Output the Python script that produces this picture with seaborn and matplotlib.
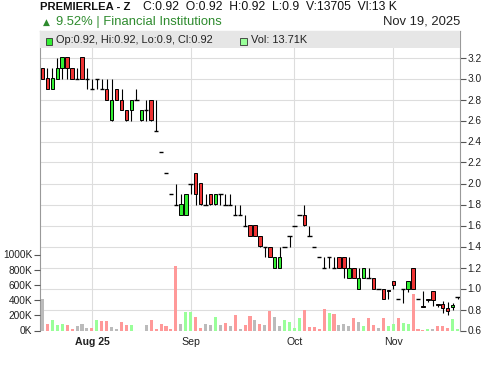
import numpy as np
import pandas as pd
import matplotlib
matplotlib.use("Agg")
import matplotlib.pyplot as plt
import seaborn as sns
from matplotlib.patches import Rectangle

# ---------------- data ----------------
opens = [3.1, 3.0, 2.9, 3.0, 3.1, 3.2, 3.1, 3.0, 3.2, 3.0,
         2.9, 3.0, 2.9, 2.9, 2.6, 2.9, 2.8, 2.7, 2.7, 2.8,
         2.6, 2.7, 2.8, 2.5, 2.3, 2.1, 1.9, 1.8, 1.7, 1.7,
         2.0, 2.1, 2.0, 1.8, 1.9, 1.8, 1.9, 1.8, 1.8, 1.7,
         1.7, 1.6, 1.6, 1.6, 1.5, 1.4, 1.4, 1.2, 1.2, 1.4,
         1.5, 1.6, 1.7, 1.7, 1.5, 1.4, 1.3, 1.2, 1.3, 1.2,
         1.3, 1.3, 1.1, 1.2, 1.0, 1.1, 1.1, 1.1, 1.0, 1.0,
         0.99, 1.07, 0.9, 1.0, 1.0, 1.2, 0.9, 0.83, 0.9, 0.98,
         0.85, 0.85, 0.81, 0.82, 0.92]
highs = [3.1, 3.1, 3.1, 3.2, 3.2, 3.2, 3.1, 3.1, 3.2, 3.1,
         3.0, 3.0, 3.0, 3.0, 3.0, 2.9, 2.9, 2.7, 2.8, 2.9,
         2.7, 2.8, 2.8, 2.8, 2.3, 2.1, 1.9, 2.0, 1.9, 1.9,
         2.0, 2.1, 2.0, 1.9, 1.9, 1.9, 1.9, 1.9, 1.9, 1.8,
         1.8, 1.7, 1.6, 1.6, 1.5, 1.4, 1.4, 1.3, 1.4, 1.4,
         1.5, 1.6, 1.7, 1.8, 1.6, 1.4, 1.3, 1.3, 1.3, 1.3,
         1.3, 1.3, 1.3, 1.2, 1.2, 1.2, 1.2, 1.1, 1.0, 1.0,
         0.99, 1.07, 0.9, 1.0, 1.07, 1.2, 0.9, 0.98, 0.9, 0.98,
         0.85, 0.88, 0.87, 0.86, 0.92]
lows = [3.0, 2.9, 2.9, 3.0, 3.0, 3.0, 3.0, 3.0, 3.0, 2.9,
        2.9, 2.9, 2.9, 2.8, 2.6, 2.8, 2.7, 2.6, 2.6, 2.8,
        2.6, 2.6, 2.6, 2.5, 2.3, 2.1, 1.9, 1.8, 1.7, 1.7,
        1.9, 1.8, 1.8, 1.8, 1.8, 1.8, 1.8, 1.8, 1.8, 1.7,
        1.7, 1.6, 1.5, 1.5, 1.4, 1.3, 1.3, 1.2, 1.2, 1.4,
        1.4, 1.6, 1.7, 1.6, 1.5, 1.4, 1.3, 1.2, 1.2, 1.2,
        1.2, 1.1, 1.1, 1.1, 1.0, 1.1, 1.1, 1.0, 1.0, 0.9,
        0.9, 1.0, 0.9, 0.86, 0.97, 1.0, 0.9, 0.82, 0.87, 0.83,
        0.82, 0.77, 0.75, 0.80, 0.90]
closes = [3.0, 2.9, 3.0, 3.1, 3.2, 3.1, 3.0, 3.0, 3.0, 3.0,
          2.9, 3.0, 2.9, 2.8, 2.8, 2.8, 2.7, 2.6, 2.8, 2.8,
          2.7, 2.7, 2.6, 2.5, 2.3, 2.1, 1.9, 1.8, 1.8, 1.9,
          2.0, 1.9, 1.8, 1.8, 1.8, 1.9, 1.9, 1.8, 1.8, 1.7,
          1.7, 1.6, 1.5, 1.5, 1.4, 1.4, 1.3, 1.3, 1.3, 1.4,
          1.5, 1.6, 1.7, 1.6, 1.5, 1.4, 1.3, 1.2, 1.3, 1.2,
          1.2, 1.2, 1.2, 1.1, 1.1, 1.2, 1.1, 1.0, 1.0, 0.9,
          0.98, 1.03, 0.9, 1.0, 1.07, 1.0, 0.9, 0.82, 0.89, 0.89,
          0.84, 0.81, 0.79, 0.84, 0.92]
volumes_k = [421, 92, 136, 70, 83, 70, 18, 53, 83, 31,
             31, 136, 123, 123, 44, 18, 110, 70, 70, 0,
             0, 70, 136, 26, 79, 53, 18, 846, 79, 237,
             237, 184, 39, 79, 70, 184, 66, 105, 53, 210,
             26, 66, 197, 136, 86, 72, 254, 176, 56, 133,
             108, 34, 165, 266, 45, 45, 22, 280, 232, 215,
             70, 88, 53, 162, 118, 53, 162, 66, 35, 162,
             53, 92, 162, 105, 92, 474, 26, 13, 26, 18,
             53, 53, 35, 145, 13.7]
holidays = ["2025-08-05", "2025-09-04", "2025-10-01", "2025-10-02"]
price_ticks = [0.6, 0.8, 1.0, 1.2, 1.4, 1.6, 1.8, 2.0, 2.2, 2.4, 2.6, 2.8, 3.0, 3.2]
volume_ticks_k = [0, 200, 400, 600, 800, 1000]

dates = pd.bdate_range("2025-07-20", "2025-11-19", freq="C",
                       weekmask="Sun Mon Tue Wed Thu", holidays=holidays)
n = len(dates)
pos = np.arange(n)
o = np.array(opens); h = np.array(highs); l = np.array(lows); c = np.array(closes)
vol = np.array(volumes_k, dtype=float)

prev = np.concatenate([[c[0]], c[:-1]])
move = np.where(c > prev + 1e-9, "up", np.where(c < prev - 1e-9, "down", "flat"))

# month ticks: first trading day of each new month (skip the partial first month)
month_id = dates.month.values
tick_pos = [int(i) for i in range(1, n) if month_id[i] != month_id[i - 1]]
tick_lab = [dates[i].strftime("%b") for i in tick_pos]
tick_lab[0] = dates[tick_pos[0]].strftime("%b %y")

# ---------------- style ----------------
sns.set_style("white")
plt.rcParams["font.family"] = ["Liberation Sans", "DejaVu Sans"]

W, H = 500, 366
fig = plt.figure(figsize=(W / 100, H / 100), dpi=100)
x0, x1, ytop, ybot = 40, 460, 31, 330.5
rect = [x0 / W, 1 - ybot / H, (x1 - x0) / W, (ybot - ytop) / H]

ax = fig.add_axes(rect)                     # price axis + grid
axv = fig.add_axes(rect, sharex=ax)         # volume
axc = fig.add_axes(rect, sharex=ax, sharey=ax)  # candles on top
ax.set_zorder(0); axv.set_zorder(1); axc.set_zorder(2)
for a in (axv, axc):
    a.patch.set_visible(False)

plot_h = ybot - ytop
px_per_price = 21 / 0.2
price_lo = 0.6
price_hi = price_lo + plot_h / px_per_price
vol_hi = plot_h / 76.0 * 1000

# ---------------- volume bars (seaborn) ----------------
df = pd.DataFrame({"pos": pos, "volume": vol, "move": move})
sns.barplot(data=df, x="pos", y="volume", hue="move",
            palette={"up": "#99ff99", "down": "#ff9999", "flat": "#bbbbbb"},
            dodge=False, native_scale=True, width=0.62, saturation=1,
            errorbar=None, legend=False, linewidth=0, ax=axv)
axv.set_ylim(0, vol_hi)
axv.set_xlabel(""); axv.set_ylabel("")
axv.yaxis.tick_left()
axv.set_yticks(volume_ticks_k)
axv.set_yticklabels([f"{v}K" for v in volume_ticks_k])
axv.tick_params(axis="y", length=4, width=0.8, color="#555555",
                labelsize=7.3, labelcolor="#222222", pad=1.5)
axv.tick_params(axis="x", bottom=False, labelbottom=False)
for s in axv.spines.values():
    s.set_visible(False)

# ---------------- candles ----------------
axc.vlines(pos, l, h, color="black", linewidth=0.8, zorder=2)
up = c > o
dn = c < o
fl = c == o
axc.bar(pos[up], (c - o)[up], bottom=o[up], width=0.72, color="#33ee33",
        edgecolor="black", linewidth=0.7, zorder=3)
axc.bar(pos[dn], (o - c)[dn], bottom=c[dn], width=0.72, color="#ee3333",
        edgecolor="black", linewidth=0.7, zorder=3)
axc.hlines(o[fl], pos[fl] - 0.45, pos[fl] + 0.45, color="black", linewidth=1.0, zorder=3)
axc.axis("off")

# ---------------- price axis ----------------
ax.set_xlim(-0.5, n - 0.5)
ax.set_ylim(price_lo, price_hi)
ax.yaxis.tick_right()
ax.set_yticks(price_ticks)
ax.set_yticklabels([f"{t:.1f}" for t in price_ticks])
ax.tick_params(axis="y", length=4, width=0.8, color="#555555",
               labelsize=7.3, labelcolor="#222222", pad=1.5, right=True, left=False)
ax.set_xticks(tick_pos)
ax.set_xticklabels(tick_lab)
ax.tick_params(axis="x", length=3, width=0.8, color="#333333",
               labelsize=7.6, labelcolor="#222222", pad=2)
ax.get_xticklabels()[0].set_fontweight("bold")
ax.grid(True, color="#dddddd", linewidth=0.8)
ax.set_axisbelow(True)
for side in ("left", "right", "top"):
    ax.spines[side].set_visible(True)
    ax.spines[side].set_color("#999999")
    ax.spines[side].set_linewidth(0.8)
ax.spines["bottom"].set_visible(False)

# legend band inside the plot top
band_h = 17 / plot_h
axc.add_patch(Rectangle((0, 1 - band_h), 1, band_h, transform=axc.transAxes,
                        facecolor="#e6e6e6", edgecolor="none", clip_on=False, zorder=5))


def fx(px):
    return px / W


def fy(py):
    return 1 - py / H


fig.add_artist(Rectangle((fx(45.7), fy(44.5)), 6.6 / W, 6.2 / H, transform=fig.transFigure,
                         facecolor="#33ee33", edgecolor="#333333", linewidth=0.6, zorder=10))
fig.text(fx(56.5), fy(39.8), "Op:0.92, Hi:0.92, Lo:0.9, Cl:0.92", fontsize=7.9,
         color="#222222", va="center", ha="left", zorder=10)
fig.add_artist(Rectangle((fx(240.2), fy(44.5)), 6.6 / W, 6.2 / H, transform=fig.transFigure,
                         facecolor="#99ff99", edgecolor="#333333", linewidth=0.6, zorder=10))
fig.text(fx(250.7), fy(39.8), "Vol: 13.71K", fontsize=7.9,
         color="#222222", va="center", ha="left", zorder=10)

# ---------------- header ----------------
fig.text(fx(40.5), fy(7), "PREMIERLEA - Z", fontsize=8.1, fontweight="bold",
         color="#111111", va="center", ha="left")
fig.text(fx(143.3), fy(7), "C:0.92  O:0.92  H:0.92  L:0.9  V:13705  Vl:13 K",
         fontsize=8.7, color="#111111", va="center", ha="left")
fig.text(fx(42.5), fy(22), "\u25B2", fontsize=6.5, color="#2e8b2e", va="center", ha="left",
         family=["DejaVu Sans"])
fig.text(fx(55.7), fy(21.5), "9.52% | Financial Institutions", fontsize=9.4,
         color="#2e8b2e", va="center", ha="left")
fig.text(fx(460.5), fy(21.5), "Nov 19, 2025", fontsize=9.4, color="#222222",
         va="center", ha="right")

fig.savefig("out.png", dpi=100)
